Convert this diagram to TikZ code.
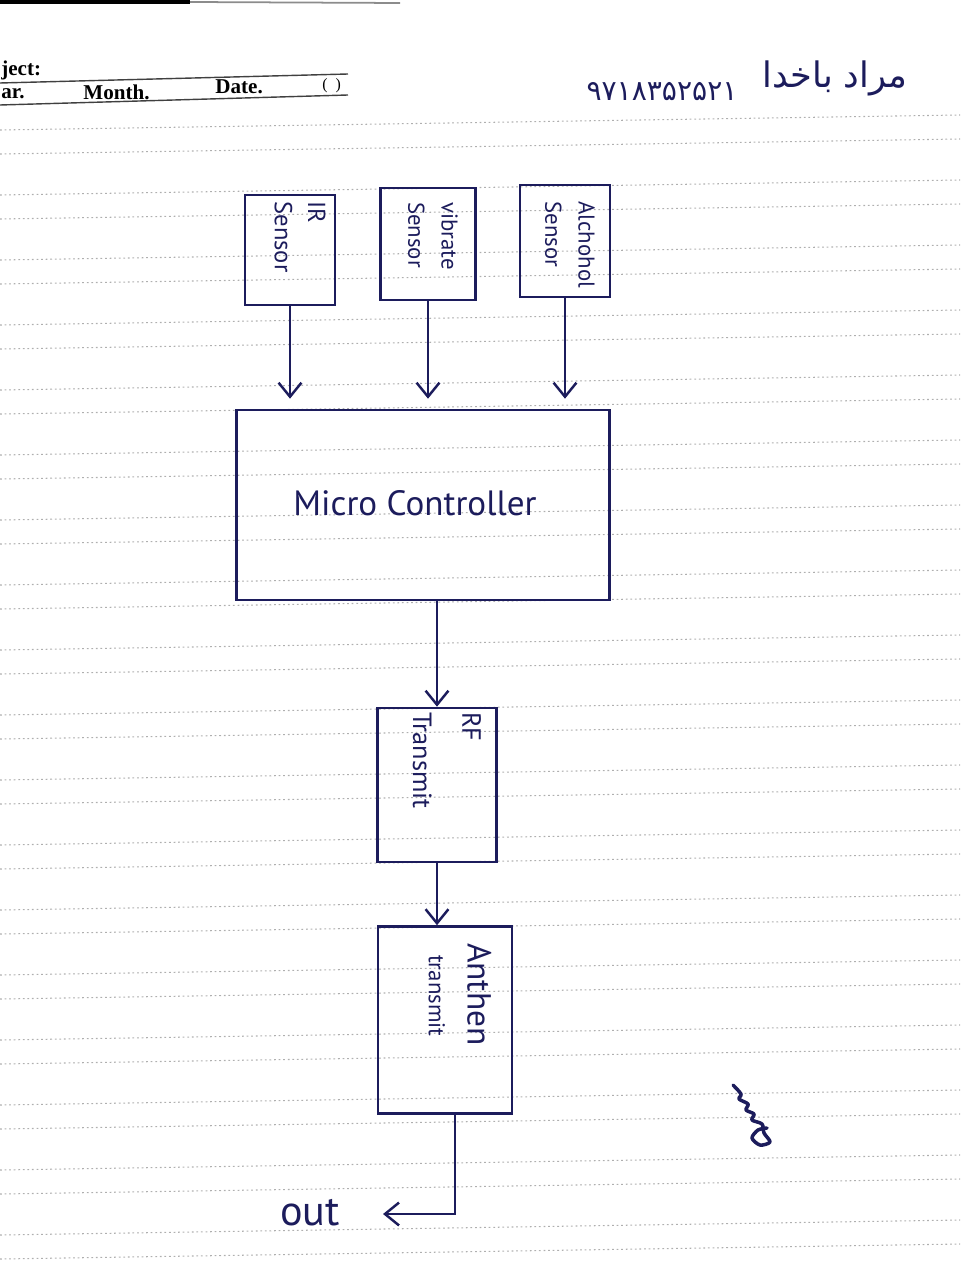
\documentclass[tikz,border=0pt]{standalone}
\usepackage{fontspec}
\setmainfont{Liberation Serif}
\setsansfont{PT Sans}
\newfontfamily\arabicfont[Script=Arabic]{DejaVu Sans}
\TeXXeTstate=1
\usepackage{xcolor}
\usetikzlibrary{arrows.meta,
                positioning}

\definecolor{ink}{RGB}{28,28,92}
\definecolor{rulegray}{RGB}{175,175,175}

\tikzset{
  blk/.style={draw=ink, line width=1.5pt, inner sep=0pt},
  hand/.style={ink, font=\sffamily, align=left, inner sep=0pt},
  printed/.style={black, anchor=west, inner sep=0pt, font=\bfseries\fontsize{12}{12}\selectfont},
  arr/.style={ink, line width=1.4pt, -{Straight Barb[length=8pt,width=13pt,line width=1.4pt]}},
  ruled/.style={rulegray, line width=0.6pt, dash pattern=on 1pt off 1.6pt},
}

\begin{document}
\begin{tikzpicture}[x=0.02cm, y=-0.02cm]
\useasboundingbox (0,0) rectangle (960,1280);

% ruled paper
\foreach \k in {0,...,17}
  \foreach \yy in {0,24}
    \draw[ruled] (0,130+65*\k+\yy) -- (960,115+65*\k+\yy);

% printed header
\draw[black, line width=2pt] (0,2) -- (190,2);
\draw[black!45, line width=1pt] (190,2) -- (400,3);
\draw[black!75, line width=0.8pt] (0,83) -- (348,74);
\draw[black!75, line width=0.8pt] (0,105) -- (348,95);
\node[printed] (subj) at (1,70) {ject:};
\node[printed] (yr) at (1,94) {ar.};
\node[printed] (month) at (83,92) {Month.};
\node[printed] (date) at (215,87) {Date.};
\node[printed, font=\fontsize{9}{9}\selectfont] (paren) at (322,86) {(\ \ )};

% name and number
\node[ink, inner sep=0pt, font=\arabicfont\fontsize{16}{16}\selectfont] (stdno) at (662,92) {۹۷۱۸۳۵۲۵۲۱};
\node[ink, inner sep=0pt, font=\arabicfont\fontsize{20}{20}\selectfont] (name) at (835,78) {\beginR مراد باخدا\endR};

% sensors
\node[blk, minimum width=1.8cm, minimum height=2.2cm] (ir) at (290,250) {};
\node[blk, minimum width=1.9cm, minimum height=2.24cm] (vib) at (428,244) {};
\node[blk, minimum width=1.8cm, minimum height=2.24cm] (alc) at (565,241) {};

\node[hand, rotate=-90, anchor=west, font=\sffamily\fontsize{14}{19}\selectfont]
  (irtxt) at ([xshift=0.2cm,yshift=-0.15cm]ir.north) {IR\\Sensor};
\node[hand, rotate=-90, anchor=west, font=\sffamily\fontsize{13}{19}\selectfont]
  (vibtxt) at ([xshift=0.1cm,yshift=-0.3cm]vib.north) {vibrate\\Sensor};
\node[hand, rotate=-90, anchor=west, font=\sffamily\fontsize{13}{19}\selectfont]
  (alctxt) at ([xshift=0.1cm,yshift=-0.35cm]alc.north) {Alchohol\\Sensor};

% controller
\node[blk, minimum width=7.46cm, minimum height=3.8cm] (mcu) at (423,505) {};
\node[hand, font=\sffamily\fontsize{20}{20}\selectfont] (mcutxt) at (415,503) {Micro Controller};

% rf and antenna
\node[blk, minimum width=2.38cm, minimum height=3.08cm] (rf) at (437,785) {};
\node[hand, rotate=-90, anchor=west, font=\sffamily\fontsize{15}{28}\selectfont]
  (rftxt) at ([xshift=0.2cm,yshift=-0.1cm]rf.north) {RF\\Transmit};
\node[blk, minimum width=2.68cm, minimum height=3.74cm] (ant) at (445,1020) {};
\node[hand, rotate=-90, anchor=west, align=left]
  (anttxt) at ([xshift=0.3cm,yshift=-0.35cm]ant.north)
  {{\fontsize{19}{19}\selectfont Anthen}\\[10pt]{\fontsize{13}{13}\selectfont\ \ transmit}};

\node[hand, font=\sffamily\fontsize{24}{24}\selectfont] (out) at (310,1213) {out};
\coordinate (outtip) at (383,1214);

% connectors
\foreach \s in {ir,vib,alc}
  \draw[arr, shorten >=0.2cm] (\s.south) -- (\s.south |- mcu.north);
\draw[arr] (rf.north |- mcu.south) -- (rf.north);
\draw[arr] (rf.south) -- (rf.south |- ant.north);
\draw[arr] ([xshift=0.2cm]ant.south) |- (outtip);

% signature
\draw[ink, line width=2pt, line cap=round, line join=round]
  plot[smooth] coordinates {(733,1085) (741,1094) (739,1099) (748,1104) (746,1110)
  (754,1114) (752,1120) (762,1124) (764,1133) (770,1142) (760,1145) (752,1138) (758,1130) (767,1128)};
\end{tikzpicture}
\end{document}
